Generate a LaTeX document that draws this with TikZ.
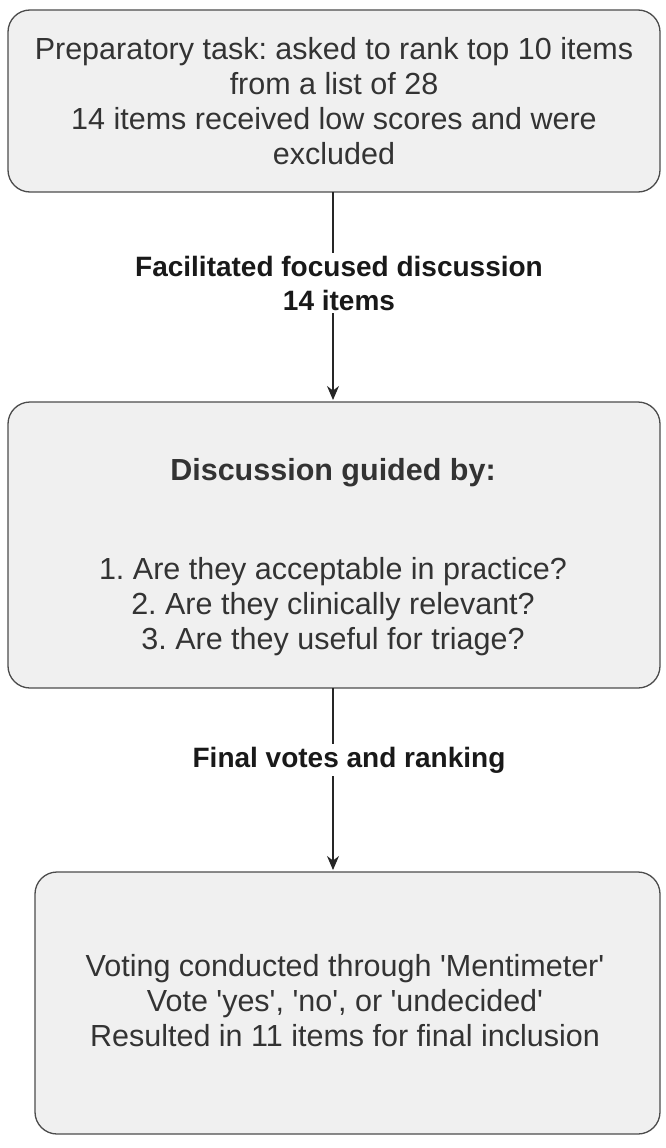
\documentclass[tikz,border=0pt]{standalone}
\usepackage{fontspec}
\setmainfont{Liberation Sans}
\usetikzlibrary{arrows.meta}
\frenchspacing
\newcommand{\q}{\textquotesingle}
\begin{document}
\begin{tikzpicture}[x=1pt,y=-1pt,
 box/.style={draw=black!70,line width=1.3pt,fill=black!6,rounded corners=22pt},
 txt/.style={font=\fontsize{30.5}{35}\selectfont,align=center,text=black!80},
 lab/.style={font=\fontsize{28}{34}\bfseries\selectfont,align=center,fill=white,inner sep=3pt,text=black!90},
 arr/.style={draw=black!85,line width=1.3pt,-{Stealth[length=14pt,width=12pt]}}]
\useasboundingbox (0,0) rectangle (666,1148);
\draw[box] (8,10) rectangle (660,192);
\draw[box] (8,402) rectangle (660,688);
\draw[box] (35,872) rectangle (660,1134);
\coordinate (b1) at (333,192);
\coordinate (t2) at (333,400);
\coordinate (b2) at (333,688);
\coordinate (t3) at (333,870);
\draw[arr] (b1) -- (t2);
\draw[arr] (b2) -- (t3);
\node[txt] (n1) at (334,101) {Preparatory task: asked to rank top 10 items\\from a list of 28\\14 items received low scores and were\\excluded};
\node[lab] (l1) at (339,283) {Facilitated focused discussion\\14 items};
\node[txt,font=\fontsize{30.5}{35}\bfseries\selectfont] (h2) at (333,473) {Discussion guided by:};
\node[txt] (n2) at (333,607) {1. Are they acceptable in practice?\\2. Are they clinically relevant?\\3. Are they useful for triage?};
\node[lab] (l2) at (349,760) {Final votes and ranking};
\node[txt] (n3) at (345,1001) {Voting conducted through \q Mentimeter\q\\Vote \q yes\q, \q no\q, or \q undecided\q\\Resulted in 11 items for final inclusion};
\end{tikzpicture}
\end{document}
